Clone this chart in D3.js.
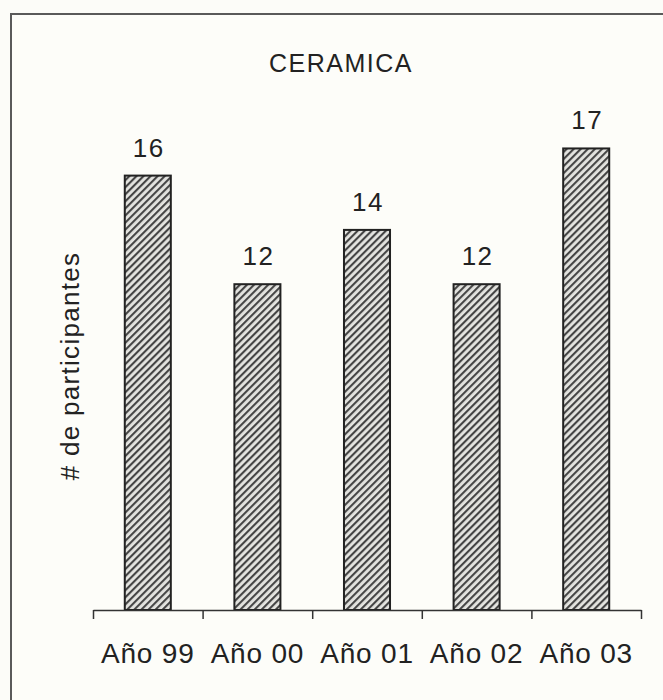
<!DOCTYPE html>
<html>
<head>
<meta charset="utf-8">
<script src="https://cdn.jsdelivr.net/npm/d3@7"></script>
<style>
  html, body { margin: 0; padding: 0; background: #fcfcf8; }
  svg { display: block; }
  text { font-family: "Liberation Sans", Arial, Helvetica, sans-serif; fill: #222; }
</style>
</head>
<body>
<script>
const categories = ["Año 99", "Año 00", "Año 01", "Año 02", "Año 03"];
const participantes = [16, 12, 14, 12, 17];
const titulo = "CERAMICA";
const ejeY = "# de participantes";

const W = 663, H = 700;
const svg = d3.select("body").append("svg").attr("width", W).attr("height", H);

// Hatch pattern for the bars
const defs = svg.append("defs");
const pat = defs.append("pattern")
  .attr("id", "hatch")
  .attr("patternUnits", "userSpaceOnUse")
  .attr("width", 5).attr("height", 5)
  .attr("patternTransform", "rotate(45)");
pat.append("rect").attr("width", 5).attr("height", 5).attr("fill", "#e4e4e0");
pat.append("rect").attr("x", 0).attr("width", 2.1).attr("height", 5).attr("fill", "#454545");

// Frame around the chart
svg.append("rect")
  .attr("x", 11).attr("y", 14)
  .attr("width", W + 20).attr("height", H + 20)
  .attr("fill", "#fdfdf9")
  .attr("stroke", "#5a5a5a").attr("stroke-width", 2);

const x0 = 93, x1 = 641, yBase = 610;
const x = d3.scaleBand().domain(categories).range([x0, x1]).paddingInner(0.58).paddingOuter(0.29);
const y = d3.scaleLinear().domain([0, 20]).range([yBase, yBase - 543]);

// Bars
svg.append("g").selectAll("rect")
  .data(participantes)
  .join("rect")
  .attr("x", (d, i) => x(categories[i]))
  .attr("y", d => y(d))
  .attr("width", x.bandwidth())
  .attr("height", d => y(0) - y(d))
  .attr("fill", "url(#hatch)")
  .attr("stroke", "#222")
  .attr("stroke-width", 2);

// Value labels
svg.append("g").selectAll("text")
  .data(participantes)
  .join("text")
  .attr("x", (d, i) => x(categories[i]) + x.bandwidth() / 2 + 1)
  .attr("y", d => y(d) - 19)
  .attr("text-anchor", "middle")
  .attr("font-size", 26)
  .attr("letter-spacing", 1.5)
  .text(d => d);

// X axis: baseline with ticks at category boundaries
const xb = d3.scaleLinear().domain([0, categories.length]).range([x0, x1]);
const axis = d3.axisBottom(xb).tickValues(d3.range(categories.length + 1)).tickSize(9).tickSizeOuter(0).tickFormat("");
const gAxis = svg.append("g").attr("transform", `translate(0,${yBase})`).call(axis);
gAxis.select(".domain").attr("stroke", "#333").attr("stroke-width", 1.5);
gAxis.selectAll(".tick line").attr("stroke", "#333").attr("stroke-width", 1.5);

// Category labels
svg.append("g").selectAll("text")
  .data(categories)
  .join("text")
  .attr("x", d => x(d) + x.bandwidth() / 2)
  .attr("y", 663)
  .attr("text-anchor", "middle")
  .attr("font-size", 28)
  .attr("letter-spacing", 0.8)
  .text(d => d);

// Title
svg.append("text")
  .attr("x", 341).attr("y", 72)
  .attr("text-anchor", "middle")
  .attr("font-size", 25)
  .attr("letter-spacing", 1.5)
  .text(titulo);

// Y axis title
svg.append("text")
  .attr("transform", "translate(79,366) rotate(-90)")
  .attr("text-anchor", "middle")
  .attr("font-size", 26)
  .attr("letter-spacing", 1.3)
  .text(ejeY);
</script>
</body>
</html>
